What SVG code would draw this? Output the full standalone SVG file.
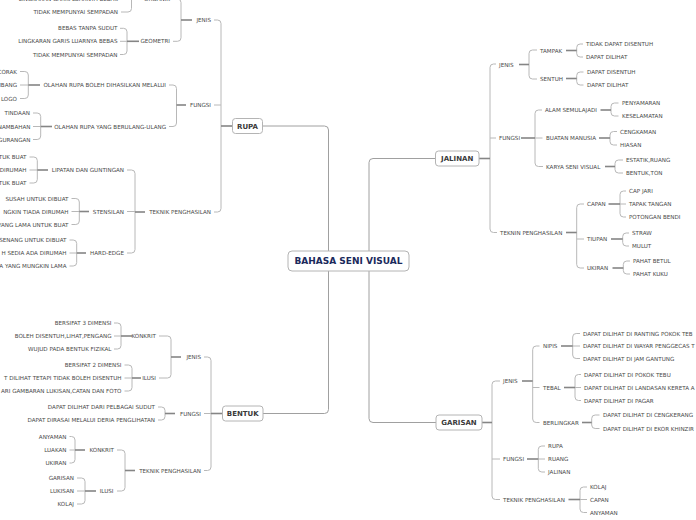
<svg xmlns="http://www.w3.org/2000/svg" width="696" height="520" viewBox="0 0 696 520">
<style>
.t{font-family:"DejaVu Sans",Verdana,sans-serif;font-size:5.6px;fill:#4a4a4a}
.e{text-anchor:end}
.m{font-family:"DejaVu Sans",Verdana,sans-serif;font-size:7px;font-weight:bold;fill:#3a3a3a;text-anchor:middle}
.r{font-family:"DejaVu Sans",Verdana,sans-serif;font-size:9px;font-weight:bold;fill:#1b2a5c;text-anchor:middle}
.b{fill:#fff;stroke:#b4b4b4;stroke-width:1}
.c{fill:none;stroke:#b8b8b8;stroke-width:1}
.p{fill:none;stroke:#858585;stroke-width:1.6}
.k{fill:none;stroke:#a0a0a0;stroke-width:1}
</style>
<rect width="696" height="520" fill="#fff"/>
<g id="connectors">
<path class="k" d="M262.5,126 H324.5 Q328.5,126 328.5,130 V409.5 Q328.5,413.5 324.5,413.5 H263"/>
<path class="k" d="M435,158.5 H373 Q369,158.5 369,162.5 V418.5 Q369,422.5 373,422.5 H436"/>
<!-- RUPA -->
<path class="c" d="M214,20 H217.5 Q221,20 221,23.5 V208.5 Q221,212 217.5,212 H214 M214,105 H221"/>
<path class="p" d="M221,126 H232"/>
<path class="c" d="M173,-1 H177.5 Q181,-1 181,2.5 V37.8 Q181,41.3 177.5,41.3 H173"/>
<path class="p" d="M181,20 H192"/>
<path class="c" d="M121,-14 H128 Q131.5,-14 131.5,-10.5 V8.5 Q131.5,12 128,12 H121 M121,-1 H131.5"/>
<path class="p" d="M131.5,-1 H142"/>
<path class="c" d="M120,28.3 H123.5 Q127,28.3 127,31.8 V51 Q127,54.5 123.5,54.5 H120 M120,41.3 H127"/>
<path class="p" d="M127,41.3 H139"/>
<path class="c" d="M169,85 H173 Q176.5,85 176.5,88.5 V123 Q176.5,126.5 173,126.5 H169"/>
<path class="p" d="M176.5,105 H186"/>
<path class="c" d="M20,71.5 H24.8 Q28.3,71.5 28.3,75 V95 Q28.3,98.5 24.8,98.5 H20 M20,85 H28.3"/>
<path class="p" d="M28.3,85 H40"/>
<path class="c" d="M33,113 H37.2 Q40.7,113 40.7,116.5 V136 Q40.7,139.5 37.2,139.5 H33 M33,126.5 H40.7"/>
<path class="p" d="M40.7,126.5 H52"/>
<path class="c" d="M127,170 H131.5 Q135,170 135,173.5 V249.5 Q135,253 131.5,253 H127 M127,211.5 H135"/>
<path class="p" d="M135,212 H145"/>
<path class="c" d="M29.5,157 H33.8 Q37.3,157 37.3,160.5 V179.5 Q37.3,183 33.8,183 H29.5 M29.5,170 H37.3"/>
<path class="p" d="M37.3,170 H48"/>
<path class="c" d="M71.5,198.5 H75.8 Q79.3,198.5 79.3,202 V221 Q79.3,224.5 75.8,224.5 H71.5 M71.5,211.5 H79.3"/>
<path class="p" d="M79.3,211.5 H89"/>
<path class="c" d="M69.5,240 H73.2 Q76.7,240 76.7,243.5 V262.5 Q76.7,266 73.2,266 H69.5 M69.5,253 H76.7"/>
<path class="p" d="M76.7,253 H86"/>
<!-- BENTUK -->
<path class="c" d="M204,357 H207.5 Q211,357 211,360.5 V467 Q211,470.5 207.5,470.5 H204 M204,413.5 H211"/>
<path class="p" d="M211,413.5 H222"/>
<path class="c" d="M159,336 H167.5 Q171,336 171,339.5 V374.5 Q171,378 167.5,378 H159"/>
<path class="p" d="M171,357 H181"/>
<path class="c" d="M114,323 H117.5 Q121,323 121,326.5 V345.5 Q121,349 117.5,349 H114 M114,336 H121"/>
<path class="p" d="M121,336 H132"/>
<path class="c" d="M124.5,365 H128.5 Q132,365 132,368.5 V387.5 Q132,391 128.5,391 H124.5 M124.5,378 H132"/>
<path class="p" d="M132,378 H141"/>
<path class="c" d="M158,407 H161.5 Q165,407 165,410.5 V416.5 Q165,420 161.5,420 H158"/>
<path class="p" d="M165,413.5 H175"/>
<path class="c" d="M117,450 H121.5 Q125,450 125,453.5 V487.5 Q125,491 121.5,491 H117"/>
<path class="p" d="M125,470.5 H135"/>
<path class="c" d="M69.5,436.5 H71.5 Q75,436.5 75,440 V459.5 Q75,463 71.5,463 H69.5 M69.5,450 H75"/>
<path class="p" d="M75,450 H85"/>
<path class="c" d="M77,478 H81.5 Q85,478 85,481.5 V500.5 Q85,504 81.5,504 H77 M77,491 H85"/>
<path class="p" d="M85,491 H96"/>
<!-- JALINAN -->
<path class="c" d="M496,64 H493.5 Q490,64 490,67.5 V229 Q490,232.5 493.5,232.5 H497 M490,138 H496"/>
<path class="p" d="M479,158.5 H490"/>
<path class="c" d="M537,50 H532.5 Q529,50 529,53.5 V75.5 Q529,79 532.5,79 H537"/>
<path class="p" d="M519,64.5 H529"/>
<path class="c" d="M583,44 H580.2 Q576.7,44 576.7,47.5 V53.5 Q576.7,57 580.2,57 H583"/>
<path class="p" d="M566,50.5 H576.7"/>
<path class="c" d="M583.5,72 H580.2 Q576.7,72 576.7,75.5 V81.5 Q576.7,85 580.2,85 H583.5"/>
<path class="p" d="M566,78.5 H576.7"/>
<path class="c" d="M542,110 H538.5 Q535,110 535,113.5 V163 Q535,166.5 538.5,166.5 H543 M535,138 H542.5"/>
<path class="p" d="M521,138 H535"/>
<path class="c" d="M618.5,103 H614.5 Q611,103 611,106.5 V112.5 Q611,116 614.5,116 H618.5"/>
<path class="p" d="M600.5,110 H611"/>
<path class="c" d="M617,131.5 H613.5 Q610,131.5 610,135 V141.5 Q610,145 613.5,145 H617"/>
<path class="p" d="M599,138 H610"/>
<path class="c" d="M623,160 H618.5 Q615,160 615,163.5 V169.5 Q615,173 618.5,173 H623"/>
<path class="p" d="M605,166.5 H615"/>
<path class="c" d="M584,204 H580.2 Q576.7,204 576.7,207.5 V264.5 Q576.7,268 580.2,268 H584 M576.7,239 H584"/>
<path class="p" d="M566,232.5 H576.7"/>
<path class="c" d="M626,191 H623.5 Q620,191 620,194.5 V213.5 Q620,217 623.5,217 H626 M620,204 H626"/>
<path class="p" d="M608.5,204 H620"/>
<path class="c" d="M629,233 H626.2 Q622.7,233 622.7,236.5 V242.5 Q622.7,246 626.2,246 H629"/>
<path class="p" d="M611,239 H622.7"/>
<path class="c" d="M630,261 H626.8 Q623.3,261 623.3,264.5 V270.5 Q623.3,274 626.8,274 H630"/>
<path class="p" d="M612.5,268 H623.3"/>
<!-- GARISAN -->
<path class="c" d="M500,381 H495.5 Q492,381 492,384.5 V496 Q492,499.5 495.5,499.5 H500 M492,459 H500"/>
<path class="p" d="M482,422.5 H492"/>
<path class="c" d="M539.5,346 H536.2 Q532.7,346 532.7,349.5 V419 Q532.7,422.5 536.2,422.5 H539.5 M532.7,387.5 H539.5"/>
<path class="p" d="M522,381 H532.7"/>
<path class="c" d="M580,333.5 H576.2 Q572.7,333.5 572.7,337 V355 Q572.7,358.5 576.2,358.5 H580 M572.7,346 H580"/>
<path class="p" d="M561,346 H572.7"/>
<path class="c" d="M581,374.5 H578.5 Q575,374.5 575,378 V397 Q575,400.5 578.5,400.5 H581 M575,387.5 H581"/>
<path class="p" d="M564,387.5 H575"/>
<path class="c" d="M599.5,415 H595.2 Q591.7,415 591.7,418.5 V425 Q591.7,428.5 595.2,428.5 H599.5"/>
<path class="p" d="M582,422.5 H591.7"/>
<path class="c" d="M545,446 H541.8 Q538.3,446 538.3,449.5 V468.5 Q538.3,472 541.8,472 H545 M538.3,459 H545"/>
<path class="p" d="M527,459 H538.3"/>
<path class="c" d="M587,487 H583.5 Q580,487 580,490.5 V509 Q580,512.5 583.5,512.5 H587 M580,499.5 H587"/>
<path class="p" d="M568.5,499.5 H580"/>
</g>
<g id="root"><rect class="b" x="288" y="251" width="121" height="20" rx="4"/><text class="r" x="348.5" y="264.3">BAHASA SENI VISUAL</text></g>
<g id="rupa"><rect class="b" x="232.5" y="118.5" width="30" height="15" rx="3"/><text class="m" x="247.5" y="128.5">RUPA</text></g>
<g id="rupa-jenis"><text class="t e" x="211" y="22">JENIS</text></g>
<g id="rupa-organik"><text class="t e" x="170" y="1">ORGANIK</text></g>
<g id="org-2"><text class="t e" x="118" y="1">LINGKARAN GARIS LUARNYA BEBAS</text></g>
<g id="org-3"><text class="t e" x="118" y="14">TIDAK MEMPUNYAI SEMPADAN</text></g>
<g id="rupa-geometri"><text class="t e" x="170" y="43.3">GEOMETRI</text></g>
<g id="geo-1"><text class="t e" x="117.5" y="30.3">BEBAS TANPA SUDUT</text></g>
<g id="geo-2"><text class="t e" x="117.5" y="43.3">LINGKARAN GARIS LUARNYA BEBAS</text></g>
<g id="geo-3"><text class="t e" x="117.5" y="56.5">TIDAK MEMPUNYAI SEMPADAN</text></g>
<g id="rupa-fungsi"><text class="t e" x="211" y="107">FUNGSI</text></g>
<g id="olahan-1"><text class="t e" x="166" y="87">OLAHAN RUPA BOLEH DIHASILKAN MELALUI</text></g>
<g id="o1-1"><text class="t e" x="17" y="73.5">CORAK</text></g>
<g id="o1-2"><text class="t e" x="17" y="87">MBANG</text></g>
<g id="o1-3"><text class="t e" x="17" y="100.5">LOGO</text></g>
<g id="olahan-2"><text class="t e" x="166" y="128.5">OLAHAN RUPA YANG BERULANG-ULANG</text></g>
<g id="o2-1"><text class="t e" x="30" y="115">TINDAAN</text></g>
<g id="o2-2"><text class="t e" x="30.5" y="128.5">NAMBAHAN</text></g>
<g id="o2-3"><text class="t e" x="30.5" y="141.5">GURANGAN</text></g>
<g id="rupa-teknik"><text class="t e" x="211" y="214">TEKNIK PENGHASILAN</text></g>
<g id="lipatan"><text class="t e" x="124" y="172">LIPATAN DAN GUNTINGAN</text></g>
<g id="lip-1"><text class="t e" x="26.5" y="159">TUK BUAT</text></g>
<g id="lip-2"><text class="t e" x="26.5" y="172">DIRUMAH</text></g>
<g id="lip-3"><text class="t e" x="26.5" y="185">TUK BUAT</text></g>
<g id="stensilan"><text class="t e" x="124" y="213.5">STENSILAN</text></g>
<g id="st-1"><text class="t e" x="68.5" y="200.5">SUSAH UNTUK DIBUAT</text></g>
<g id="st-2"><text class="t e" x="68.5" y="213.5">NGKIN TIADA DIRUMAH</text></g>
<g id="st-3"><text class="t e" x="68.5" y="226.5">YANG LAMA UNTUK BUAT</text></g>
<g id="hard-edge"><text class="t e" x="124" y="255">HARD-EDGE</text></g>
<g id="he-1"><text class="t e" x="66.5" y="242">SENANG UNTUK DIBUAT</text></g>
<g id="he-2"><text class="t e" x="66.5" y="255">H SEDIA ADA DIRUMAH</text></g>
<g id="he-3"><text class="t e" x="66.5" y="268">A YANG MUNGKIN LAMA</text></g>
<g id="bentuk"><rect class="b" x="222.5" y="406" width="40.5" height="15" rx="3"/><text class="m" x="242.8" y="416">BENTUK</text></g>
<g id="b-jenis"><text class="t e" x="201" y="359">JENIS</text></g>
<g id="b-konkrit"><text class="t e" x="156" y="338">KONKRIT</text></g>
<g id="k-1"><text class="t e" x="111.5" y="325">BERSIFAT 3 DIMENSI</text></g>
<g id="k-2"><text class="t e" x="111.5" y="338">BOLEH DISENTUH,LIHAT,PENGANG</text></g>
<g id="k-3"><text class="t e" x="111.5" y="351">WUJUD PADA BENTUK FIZIKAL</text></g>
<g id="b-ilusi"><text class="t e" x="156" y="380">ILUSI</text></g>
<g id="i-1"><text class="t e" x="121.5" y="367">BERSIFAT 2 DIMENSI</text></g>
<g id="i-2"><text class="t e" x="121.5" y="380">T DILIHAT TETAPI TIDAK BOLEH DISENTUH</text></g>
<g id="i-3"><text class="t e" x="121.5" y="393">ARI GAMBARAN LUKISAN,CATAN DAN FOTO</text></g>
<g id="b-fungsi"><text class="t e" x="201" y="415.5">FUNGSI</text></g>
<g id="bf-1"><text class="t e" x="155" y="409">DAPAT DILIHAT DARI PELBAGAI SUDUT</text></g>
<g id="bf-2"><text class="t e" x="155" y="422">DAPAT DIRASAI MELALUI DERIA PENGLIHATAN</text></g>
<g id="b-teknik"><text class="t e" x="201" y="472.5">TEKNIK PENGHASILAN</text></g>
<g id="tk-konkrit"><text class="t e" x="114" y="452">KONKRIT</text></g>
<g id="tk-1"><text class="t e" x="66.5" y="438.5">ANYAMAN</text></g>
<g id="tk-2"><text class="t e" x="66.5" y="452">LUAKAN</text></g>
<g id="tk-3"><text class="t e" x="66.5" y="465">UKIRAN</text></g>
<g id="tk-ilusi"><text class="t e" x="113.5" y="493">ILUSI</text></g>
<g id="ti-1"><text class="t e" x="74" y="480">GARISAN</text></g>
<g id="ti-2"><text class="t e" x="74" y="493">LUKISAN</text></g>
<g id="ti-3"><text class="t e" x="74" y="506">KOLAJ</text></g>
<g id="jalinan"><rect class="b" x="435.5" y="151" width="43.5" height="15" rx="3"/><text class="m" x="457.2" y="161">JALINAN</text></g>
<g id="j-jenis"><text class="t" x="499" y="66.5">JENIS</text></g>
<g id="tampak"><text class="t" x="540" y="52.5">TAMPAK</text></g>
<g id="ta-1"><text class="t" x="586" y="46">TIDAK DAPAT DISENTUH</text></g>
<g id="ta-2"><text class="t" x="586" y="59">DAPAT DILIHAT</text></g>
<g id="sentuh"><text class="t" x="540" y="80.5">SENTUH</text></g>
<g id="se-1"><text class="t" x="587" y="74">DAPAT DISENTUH</text></g>
<g id="se-2"><text class="t" x="587" y="87">DAPAT DILIHAT</text></g>
<g id="j-fungsi"><text class="t" x="499" y="140">FUNGSI</text></g>
<g id="alam"><text class="t" x="545" y="112">ALAM SEMULAJADI</text></g>
<g id="al-1"><text class="t" x="622" y="105">PENYAMARAN</text></g>
<g id="al-2"><text class="t" x="622" y="118">KESELAMATAN</text></g>
<g id="buatan"><text class="t" x="546" y="140">BUATAN MANUSIA</text></g>
<g id="bu-1"><text class="t" x="620" y="133.5">CENGKAMAN</text></g>
<g id="bu-2"><text class="t" x="620" y="147">HIASAN</text></g>
<g id="karya"><text class="t" x="546" y="168.5">KARYA SENI VISUAL</text></g>
<g id="ka-1"><text class="t" x="626" y="162">ESTATIK,RUANG</text></g>
<g id="ka-2"><text class="t" x="626" y="175">BENTUK,TON</text></g>
<g id="j-teknin"><text class="t" x="500" y="234.5">TEKNIN PENGHASILAN</text></g>
<g id="capan"><text class="t" x="587" y="206">CAPAN</text></g>
<g id="ca-1"><text class="t" x="629" y="193">CAP JARI</text></g>
<g id="ca-2"><text class="t" x="629" y="206">TAPAK TANGAN</text></g>
<g id="ca-3"><text class="t" x="629" y="219">POTONGAN BENDI</text></g>
<g id="tiupan"><text class="t" x="587" y="241">TIUPAN</text></g>
<g id="tu-1"><text class="t" x="632" y="235">STRAW</text></g>
<g id="tu-2"><text class="t" x="632" y="248">MULUT</text></g>
<g id="ukiran"><text class="t" x="587" y="270">UKIRAN</text></g>
<g id="uk-1"><text class="t" x="633" y="263">PAHAT BETUL</text></g>
<g id="uk-2"><text class="t" x="633" y="276">PAHAT KUKU</text></g>
<g id="garisan"><rect class="b" x="436" y="415" width="46" height="15" rx="3"/><text class="m" x="459" y="425">GARISAN</text></g>
<g id="g-jenis"><text class="t" x="503" y="383">JENIS</text></g>
<g id="nipis"><text class="t" x="543" y="348">NIPIS</text></g>
<g id="ni-1"><text class="t" x="583" y="335.5">DAPAT DILIHAT DI RANTING POKOK TEB</text></g>
<g id="ni-2"><text class="t" x="583" y="348">DAPAT DILIHAT DI WAYAR PENGGECAS T</text></g>
<g id="ni-3"><text class="t" x="583" y="360.5">DAPAT DILIHAT DI JAM GANTUNG</text></g>
<g id="tebal"><text class="t" x="543" y="389.5">TEBAL</text></g>
<g id="te-1"><text class="t" x="584" y="376.5">DAPAT DILIHAT DI POKOK TEBU</text></g>
<g id="te-2"><text class="t" x="584" y="389.5">DAPAT DILIHAT DI LANDASAN KERETA A</text></g>
<g id="te-3"><text class="t" x="584" y="402.5">DAPAT DILIHAT DI PAGAR</text></g>
<g id="berlingkar"><text class="t" x="543" y="424.5">BERLINGKAR</text></g>
<g id="be-1"><text class="t" x="603" y="417">DAPAT DILIHAT DI CENGKERANG</text></g>
<g id="be-2"><text class="t" x="603" y="430.5">DAPAT DILIHAT DI EKOR KHINZIR</text></g>
<g id="g-fungsi"><text class="t" x="503" y="461">FUNGSI</text></g>
<g id="gf-1"><text class="t" x="548" y="448">RUPA</text></g>
<g id="gf-2"><text class="t" x="548" y="461">RUANG</text></g>
<g id="gf-3"><text class="t" x="548" y="474">JALINAN</text></g>
<g id="g-teknik"><text class="t" x="503" y="501.5">TEKNIK PENGHASILAN</text></g>
<g id="gt-1"><text class="t" x="590" y="489">KOLAJ</text></g>
<g id="gt-2"><text class="t" x="590" y="501.5">CAPAN</text></g>
<g id="gt-3"><text class="t" x="590" y="514.5">ANYAMAN</text></g>
</svg>
